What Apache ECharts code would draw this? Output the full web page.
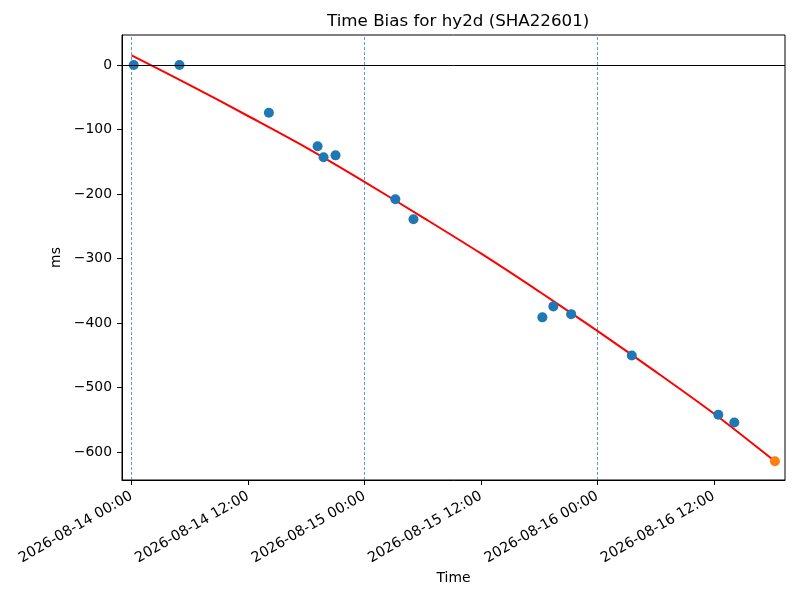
<!DOCTYPE html>
<html>
<head>
    <meta charset="utf-8">
    <title>Time Bias for hy2d (SHA22601)</title>
    <style>
        html, body { margin: 0; padding: 0; background: #fff; }
        #chart { width: 800px; height: 600px; }
    </style>
</head>
<body>
    <div id="chart"></div>
    <script src="https://cdn.jsdelivr.net/npm/echarts@6/dist/echarts.min.js"></script>
    <script type="text/javascript">
        // measured points (blue)
        const obsTimes = ['2026-08-14 00:13', '2026-08-14 04:56', '2026-08-14 14:09', '2026-08-14 19:10',
            '2026-08-14 19:47', '2026-08-14 21:01', '2026-08-15 03:11', '2026-08-15 05:03',
            '2026-08-15 18:20', '2026-08-15 19:28', '2026-08-15 21:18', '2026-08-16 03:33',
            '2026-08-16 12:28', '2026-08-16 14:07'];
        const obsBias = [0, 0, -74, -126, -143, -140, -208, -239, -391, -374, -386, -450, -542, -554];

        // latest point (orange)
        const lastTimes = ['2026-08-16 18:18'];
        const lastBias = [-614];

        // fitted curve (red)
        const fitTimes = ['2026-08-14 00:00', '2026-08-14 06:00', '2026-08-14 12:00', '2026-08-14 18:00',
            '2026-08-15 00:00', '2026-08-15 06:00', '2026-08-15 12:00', '2026-08-15 18:00',
            '2026-08-16 00:00', '2026-08-16 06:00', '2026-08-16 12:00', '2026-08-16 18:18'];
        const fitBias = [15, -31, -79, -128, -181, -236, -292, -351, -412, -475, -540, -614];

        // day boundaries (dashed) and tick labels
        const dayLines = ['2026-08-14 00:00', '2026-08-15 00:00', '2026-08-16 00:00'];
        const xTickLabels = ['2026-08-14 00:00', '2026-08-14 12:00', '2026-08-15 00:00',
            '2026-08-15 12:00', '2026-08-16 00:00', '2026-08-16 12:00'];
        const yTicks = [-600, -500, -400, -300, -200, -100, 0];

        // x axis runs in hours from the first tick
        const base = Date.parse(xTickLabels[0].replace(' ', 'T'));
        const toHours = s => (Date.parse(s.replace(' ', 'T')) - base) / 3600000;
        const pairs = (ts, vs) => ts.map((t, i) => [toHours(t), vs[i]]);
        const xTicks = xTickLabels.map(toHours);

        const font = 'DejaVu Sans';
        let myChart = echarts.init(document.getElementById('chart'));

        myChart.setOption({
            animation: false,
            backgroundColor: '#fff',
            title: {
                text: 'Time Bias for hy2d (SHA22601)',
                left: 322,
                top: 8,
                textStyle: { fontFamily: font, fontSize: 16.7, fontWeight: 'normal', color: '#000' }
            },
            grid: {
                left: 122, right: 15, top: 35, bottom: 120,
                show: true, borderColor: '#000', borderWidth: 1, backgroundColor: 'transparent'
            },
            xAxis: {
                type: 'value',
                min: -0.99,
                max: 67.34,
                name: 'Time',
                nameLocation: 'middle',
                nameGap: 90,
                nameTextStyle: { fontFamily: font, fontSize: 13.9, color: '#000' },
                axisLine: { show: true, onZero: false, lineStyle: { color: '#000', width: 1 } },
                axisTick: { show: true, length: 5, customValues: xTicks, lineStyle: { color: '#000' } },
                axisLabel: {
                    customValues: xTicks,
                    rotate: 30,
                    margin: 15,
                    fontFamily: font,
                    fontSize: 14.3,
                    color: '#000',
                    formatter: v => {
                        let i = xTicks.findIndex(x => Math.abs(x - v) < 1e-6);
                        return i >= 0 ? xTickLabels[i] : '';
                    }
                },
                splitLine: { show: false }
            },
            yAxis: {
                type: 'value',
                min: -643,
                max: 46.5,
                name: 'ms',
                nameLocation: 'middle',
                nameGap: 55,
                nameTextStyle: { fontFamily: font, fontSize: 13.9, color: '#000' },
                axisLine: { show: true, onZero: false, lineStyle: { color: '#000', width: 1 } },
                axisTick: { show: true, length: 5, customValues: yTicks, lineStyle: { color: '#000' } },
                axisLabel: {
                    customValues: yTicks,
                    margin: 10,
                    fontFamily: font,
                    fontSize: 13.9,
                    color: '#000',
                    formatter: v => String(Math.round(v)).replace('-', '\u2212')
                },
                splitLine: { show: false }
            },
            series: [
                {
                    name: 'fit',
                    type: 'line',
                    data: pairs(fitTimes, fitBias),
                    showSymbol: false,
                    smooth: 0.3,
                    lineStyle: { color: '#ff0000', width: 2 },
                    z: 2,
                    markLine: {
                        silent: true,
                        symbol: 'none',
                        label: { show: false },
                        data: dayLines.map(d => ({
                            xAxis: toHours(d),
                            lineStyle: { color: '#1f77b4', width: 0.8, type: [3, 2], opacity: 0.9 }
                        })).concat([{
                            yAxis: 0,
                            lineStyle: { color: '#000', width: 1, type: 'solid' }
                        }])
                    }
                },
                {
                    name: 'obs',
                    type: 'scatter',
                    data: pairs(obsTimes, obsBias),
                    symbolSize: 10,
                    itemStyle: { color: '#1f77b4', opacity: 1 },
                    z: 3
                },
                {
                    name: 'last',
                    type: 'scatter',
                    data: pairs(lastTimes, lastBias),
                    symbolSize: 10,
                    itemStyle: { color: '#ff7f0e', opacity: 1 },
                    z: 4
                }
            ]
        });
    </script>
</body>
</html>
